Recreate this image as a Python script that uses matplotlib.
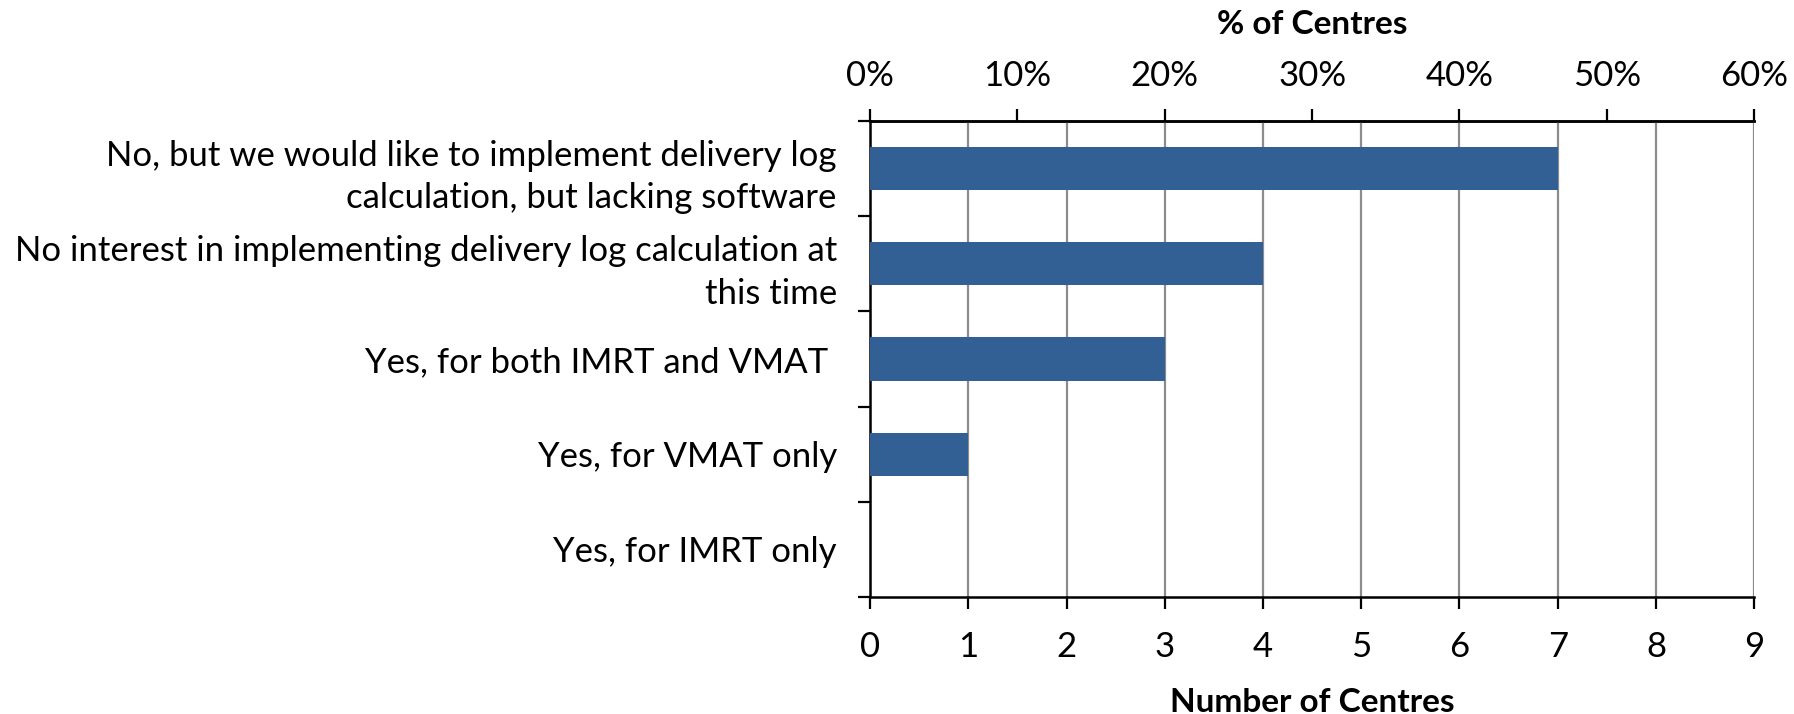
import numpy as np
import matplotlib.pyplot as plt
from matplotlib.ticker import FuncFormatter

# datos
categorias = ["No, but we would like to implement delivery log\ncalculation, but lacking software",
              "No interest in implementing delivery log calculation at\nthis time",
              "Yes, for both IMRT and VMAT ",
              "Yes, for VMAT only",
              "Yes, for IMRT only"]
centros = [7, 4, 3, 1, 0]
total_centros = 15

plt.rcParams['font.family'] = ['Lato', 'DejaVu Sans']

fig = plt.figure(figsize=(17.94, 7.14), dpi=100)
ax = fig.add_axes([0.485, 0.1639, 0.4928, 0.6667])

y = np.arange(len(categorias))
ax.barh(y, centros, height=0.455, color='#336094', zorder=3)
ax.set_ylim(len(categorias) - 0.5, -0.5)
ax.set_xlim(0, 9)

# rejilla vertical
ax.set_xticks(np.arange(0, 10, 1))
ax.grid(axis='x', color='#8c8c8c', linewidth=1.6, zorder=0)
ax.tick_params(axis='x', direction='out', length=8.6, width=1.6, labelsize=25, pad=16)
ax.set_xlabel("Number of Centres", fontsize=24, fontweight='bold', labelpad=18)

# eje y: marcas en los limites, etiquetas en el centro
ax.set_yticks(np.arange(-0.5, len(categorias), 1))
ax.set_yticklabels([])
ax.tick_params(axis='y', which='major', direction='out', length=8.6, width=1.6)
ax.set_yticks(y, minor=True)
ax.set_yticklabels(categorias, minor=True, fontsize=25, linespacing=1.42)
ax.tick_params(axis='y', which='minor', length=0, pad=24)

for s in ['left', 'bottom', 'top']:
    ax.spines[s].set_linewidth(1.8)
    ax.spines[s].set_color('black')
ax.spines['right'].set_visible(False)

# eje superior en porcentaje
sec = ax.secondary_xaxis('top', functions=(lambda x: x / total_centros * 100,
                                           lambda p: p * total_centros / 100))
sec.set_xticks(np.arange(0, 70, 10))
sec.xaxis.set_major_formatter(FuncFormatter(lambda v, p: "%d%%" % v))
sec.tick_params(axis='x', direction='out', length=8.6, width=1.6, labelsize=25, pad=12)
sec.spines['top'].set_linewidth(1.8)
sec.set_xlabel("% of Centres", fontsize=24, fontweight='bold', labelpad=19)

plt.savefig("out.png", dpi=100)
